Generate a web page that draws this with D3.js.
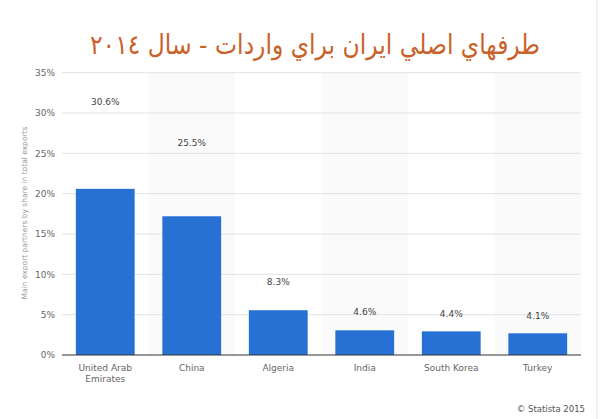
<!DOCTYPE html>
<html><head><meta charset="utf-8">
<script src="https://cdn.jsdelivr.net/npm/d3@7/dist/d3.min.js"></script>
<style>body{margin:0;background:#fff}svg{display:block}</style>
</head><body>
<script>
const categories = [["United Arab","Emirates"],["China"],["Algeria"],["India"],["South Korea"],["Turkey"]];
const barValues = [20.6, 17.2, 5.55, 3.06, 2.93, 2.69];
const labelValues = [30.6, 25.5, 8.3, 4.6, 4.4, 4.1];
const yTicks = [0,5,10,15,20,25,30,35];
const titleText = "طرفهاي اصلي ايران براي واردات - سال ٢٠١٤";

const W=600,H=419;
const svg=d3.select("body").append("svg").attr("width",W).attr("height",H);
const x=d3.scaleBand().domain(d3.range(categories.length)).range([62,581]).paddingInner(0.32).paddingOuter(0.16);
const y=d3.scaleLinear().domain([0,35]).range([355,72.7]);

// alternating bands
const step=x.step();
svg.selectAll("rect.band").data(d3.range(categories.length).filter(i=>i%2===1)).join("rect")
  .attr("x",i=>x(i)-x.paddingInner()*step/2).attr("width",step)
  .attr("y",y(35)).attr("height",y(0)-y(35)).attr("fill","#fafafa");

// grid
svg.selectAll("line.grid").data(yTicks.filter(t=>t>0)).join("line")
  .attr("x1",62).attr("x2",581).attr("y1",d=>y(d)).attr("y2",d=>y(d))
  .attr("stroke","#e3e3e3").attr("stroke-width",1);

// y axis labels
const ya=svg.append("g").attr("transform","translate(62,0)")
  .call(d3.axisLeft(y).tickValues(yTicks).tickFormat(d=>d+"%").tickSize(0).tickPadding(7));
ya.select(".domain").remove();
ya.selectAll("text").attr("font-family","Verdana, DejaVu Sans, sans-serif").attr("font-size",9).attr("fill","#666");

// bars
svg.selectAll("rect.bar").data(barValues).join("rect")
  .attr("x",(d,i)=>x(i)).attr("width",x.bandwidth())
  .attr("y",d=>y(d)).attr("height",d=>y(0)-y(d)).attr("fill","#2771d5");

// baseline
svg.append("line").attr("x1",62).attr("x2",581).attr("y1",y(0)).attr("y2",y(0)).attr("stroke","#333").attr("stroke-width",1.2);

// value labels
svg.selectAll("text.val").data(labelValues).join("text")
  .attr("x",(d,i)=>x(i)+x.bandwidth()/2).attr("y",d=>y(d)-3)
  .attr("text-anchor","middle").attr("font-family","Verdana, DejaVu Sans, sans-serif").attr("font-size",9).attr("fill","#444")
  .text(d=>d.toFixed(1)+"%");

// x labels
const xl=svg.selectAll("text.xl").data(categories).join("text")
  .attr("text-anchor","middle").attr("font-family","Verdana, DejaVu Sans, sans-serif").attr("font-size",9).attr("fill","#666")
  .attr("transform",(d,i)=>`translate(${x(i)+x.bandwidth()/2},371)`);
xl.selectAll("tspan").data(d=>d).join("tspan").attr("x",0).attr("dy",(d,j)=>j?11:0).text(d=>d);

// y title
svg.append("text").attr("transform","translate(27,213) rotate(-90)").attr("text-anchor","middle")
  .attr("font-family","Verdana, DejaVu Sans, sans-serif").attr("font-size",7.5).attr("fill","#999")
  .text("Main export partners by share in total exports");

// right border
svg.append("line").attr("x1",597).attr("x2",597).attr("y1",0).attr("y2",H).attr("stroke","#e6e6e6");

// title
svg.append("text").attr("x",315).attr("y",54).attr("text-anchor","middle").attr("direction","rtl")
  .attr("font-family","DejaVu Sans, sans-serif").attr("font-size",27).attr("fill","#c9622a")
  .attr("textLength",450).attr("lengthAdjust","spacingAndGlyphs")
  .text(titleText);

// credit
svg.append("text").attr("x",585).attr("y",412).attr("text-anchor","end")
  .attr("font-family","DejaVu Sans, sans-serif").attr("font-size",8.5).attr("fill","#555")
  .text("© Statista 2015");
</script>
</body></html>
